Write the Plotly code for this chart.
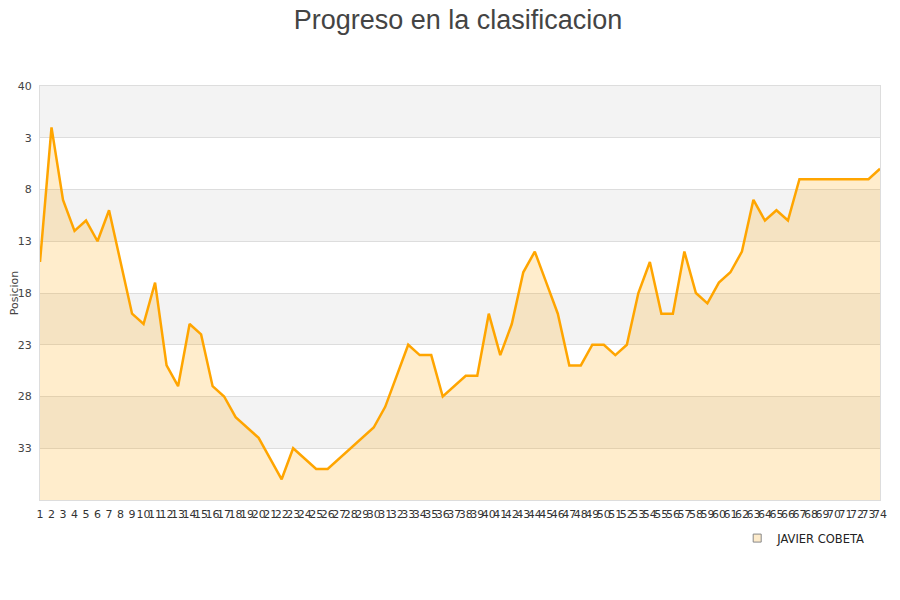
import plotly.graph_objects as go

jornadas = list(range(1, 75))
posiciones = [15, 2, 9, 12, 11, 13, 10, 15, 20, 21,
              17, 25, 27, 21, 22, 27, 28, 30, 31, 32,
              34, 36, 33, 34, 35, 35, 34, 33, 32, 31,
              29, 26, 23, 24, 24, 28, 27, 26, 26, 20,
              24, 21, 16, 14, 17, 20, 25, 25, 23, 23,
              24, 23, 18, 15, 20, 20, 14, 18, 19, 17,
              16, 14, 9, 11, 10, 11, 7, 7, 7, 7,
              7, 7, 7, 6]
ytick_vals = [-2, 3, 8, 13, 18, 23, 28, 33]
ytick_text = ["40", "3", "8", "13", "18", "23", "28", "33"]
y_bottom = 38
y_top = -2
nombre = "JAVIER COBETA"

fig = go.Figure()
fig.add_trace(go.Scatter(x=jornadas, y=[y_bottom] * len(jornadas), mode="lines",
                         line=dict(width=0), showlegend=False, hoverinfo="skip"))
fig.add_trace(go.Scatter(x=jornadas, y=posiciones, mode="lines", fill="tonexty",
                         fillcolor="rgba(255,165,0,0.2)",
                         line=dict(color="#FFA500", width=2.5), showlegend=False))
fig.add_trace(go.Scatter(x=[None], y=[None], mode="markers", name=nombre,
                         marker=dict(symbol="square", size=8, color="#FDEBCB",
                                     line=dict(color="#888", width=1))))

shapes = []
bands = list(range(y_top, y_bottom, 5))
for i, b in enumerate(bands):
    if i % 2 == 0:
        shapes.append(dict(type="rect", xref="paper", yref="y", x0=0, x1=1,
                           y0=b, y1=b + 5, fillcolor="#F3F3F3", line=dict(width=0),
                           layer="below"))

fig.update_layout(
    width=900, height=600,
    paper_bgcolor="white", plot_bgcolor="white",
    margin=dict(l=32, r=28, t=78, b=108),
    title=dict(text="Progreso en la clasificacion", x=0.5, xanchor="center",
               yref="container", y=0.996, yanchor="top",
               font=dict(family="Liberation Sans, Arial", size=27, color="#444")),
    font=dict(family="DejaVu Sans", size=11, color="#444"),
    shapes=shapes,
    showlegend=True,
    legend=dict(x=0.830, y=-0.092, xanchor="left", yanchor="middle",
                font=dict(size=11.5, color="#222"), bgcolor="rgba(0,0,0,0)",
                itemwidth=30),
    xaxis=dict(range=[1, 74], tickmode="array", tickvals=jornadas,
               ticktext=[str(j) for j in jornadas], tickangle=0, automargin=False,
               showgrid=False, zeroline=False, showline=True, linecolor="#DDD",
               mirror=True, ticks="", ticklabelstandoff=4,
               tickfont=dict(size=11, color="#333")),
    yaxis=dict(range=[y_bottom, y_top], tickmode="array", tickvals=ytick_vals,
               ticktext=ytick_text, showgrid=True, gridcolor="#DDD", automargin=False,
               zeroline=False, showline=True, linecolor="#DDD", mirror=True,
               ticks="", ticklabelstandoff=5,
               title=dict(text="Posicion", font=dict(size=11), standoff=4),
               tickfont=dict(size=11, color="#444")),
)

fig.write_html("out.html")
